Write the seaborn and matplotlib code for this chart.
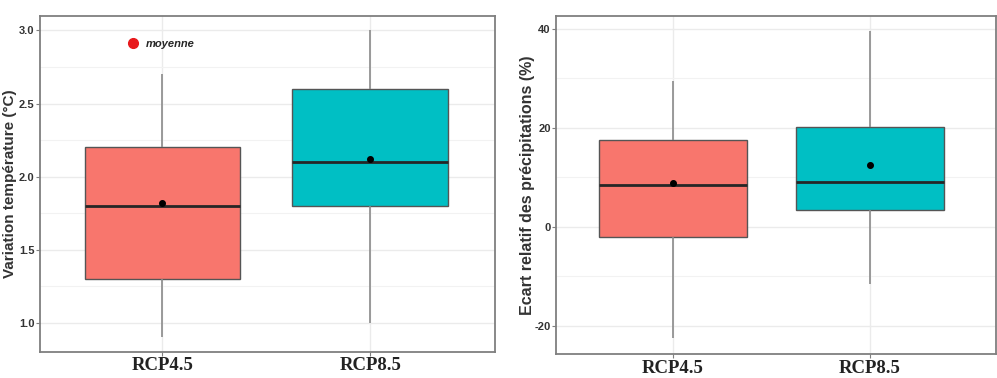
import pandas as pd
import numpy as np
import seaborn as sns
import matplotlib.pyplot as plt
from matplotlib.lines import Line2D
from matplotlib.ticker import MultipleLocator

# scenarios and five-number summaries (min, Q1, median, Q3, max)
scenarios = ["RCP4.5", "RCP8.5"]
temp_rcp45 = [0.9, 1.3, 1.8, 2.2, 2.7]
temp_rcp85 = [1.0, 1.8, 2.1, 2.6, 3.0]
temp_means = [1.82, 2.12]
prec_rcp45 = [-22.4, -2.0, 8.5, 17.6, 29.4]
prec_rcp85 = [-11.6, 3.4, 9.0, 20.1, 39.5]
prec_means = [8.8, 12.4]

colors = ["#F8766D", "#00BFC4"]
tick_font = ["Liberation Sans Narrow", "Liberation Sans", "DejaVu Sans"]

sns.set_theme(style="white")
plt.rcParams['font.family'] = ['Liberation Sans', 'DejaVu Sans']

fig = plt.figure(figsize=(9.97, 3.78), dpi=100)
ax1 = fig.add_axes([0.040, 0.069, 0.4565, 0.889])
ax2 = fig.add_axes([0.558, 0.0635, 0.441, 0.8945])

def draw_panel(ax, vals45, vals85, means, ylabel, lsize):
    df = pd.DataFrame({"scenario": ["RCP4.5"] * 5 + ["RCP8.5"] * 5,
                       "value": vals45 + vals85})
    sns.boxplot(data=df, x="scenario", y="value", hue="scenario", order=scenarios,
                palette=colors, saturation=1, legend=False, width=0.75, whis=(0, 100),
                linecolor="#555555", linewidth=1.0, ax=ax,
                medianprops=dict(color="#262626", linewidth=2.0),
                whiskerprops=dict(color="#8a8a8a", linewidth=1.2),
                capprops=dict(linewidth=0), zorder=3)
    mdf = pd.DataFrame({"scenario": scenarios, "mean": means})
    sns.pointplot(data=mdf, x="scenario", y="mean", order=scenarios, color="black",
                  linestyle="none", markers="o", markersize=3, errorbar=None, ax=ax)
    for c in ax.collections:
        c.set_zorder(6)
    for l in ax.lines[-3:]:
        l.set_zorder(6)
    ax.set_xlabel("")
    ax.set_ylabel(ylabel, fontsize=lsize, fontweight="bold", color="#333333")
    ax.grid(True, which="major", color="#ebebeb", linewidth=1.0)
    ax.grid(True, which="minor", axis="y", color="#f2f2f2", linewidth=0.8)
    ax.set_axisbelow(True)
    for s in ax.spines.values():
        s.set_color("#7f7f7f")
        s.set_linewidth(1.3)
    ax.tick_params(axis="both", which="major", length=3, color="#7f7f7f", width=0.8,
                   left=True, bottom=True, pad=1)
    ax.tick_params(axis="y", which="minor", length=0)
    for t in ax.get_xticklabels():
        t.set_fontfamily(["Liberation Serif", "DejaVu Serif"])
        t.set_fontweight("bold")
        t.set_fontsize(13.5)
        t.set_color("#222222")

draw_panel(ax1, temp_rcp45, temp_rcp85, temp_means, "Variation température (°C)", 11)
ax1.set_ylim(0.80, 3.10)
ax1.set_xlim(-0.59, 1.60)
ax1.yaxis.set_minor_locator(MultipleLocator(0.25))
ax1.set_yticks([1.0, 1.5, 2.0, 2.5, 3.0])
ax1.set_yticklabels(["1.0", "1.5", "2.0", "2.5", "3.0"], fontfamily=tick_font,
                    fontweight="bold", fontsize=8, color="#333333")
ax1.yaxis.set_label_coords(-0.050, 0.5)

draw_panel(ax2, prec_rcp45, prec_rcp85, prec_means, "Ecart relatif des précipitations (%)", 11.5)
ax2.set_ylim(-25.7, 42.6)
ax2.set_xlim(-0.59, 1.64)
ax2.set_yticks([-20, 0, 20, 40])
ax2.yaxis.set_minor_locator(MultipleLocator(10))
ax2.set_yticklabels(["-20", "0", "20", "40"], fontfamily=tick_font,
                    fontweight="bold", fontsize=8, color="#333333")
ax2.yaxis.set_label_coords(-0.048, 0.5)

handle = Line2D([0], [0], marker="o", linestyle="none", color="#e8191c",
                markersize=7)
leg = ax1.legend([handle], ["moyenne"], loc="center left", bbox_to_anchor=(0.17, 0.917),
                 frameon=False, handletextpad=0.2, borderaxespad=0,
                 prop=dict(style="italic", weight="bold", size=8))

fig.savefig("out.png", dpi=100)
